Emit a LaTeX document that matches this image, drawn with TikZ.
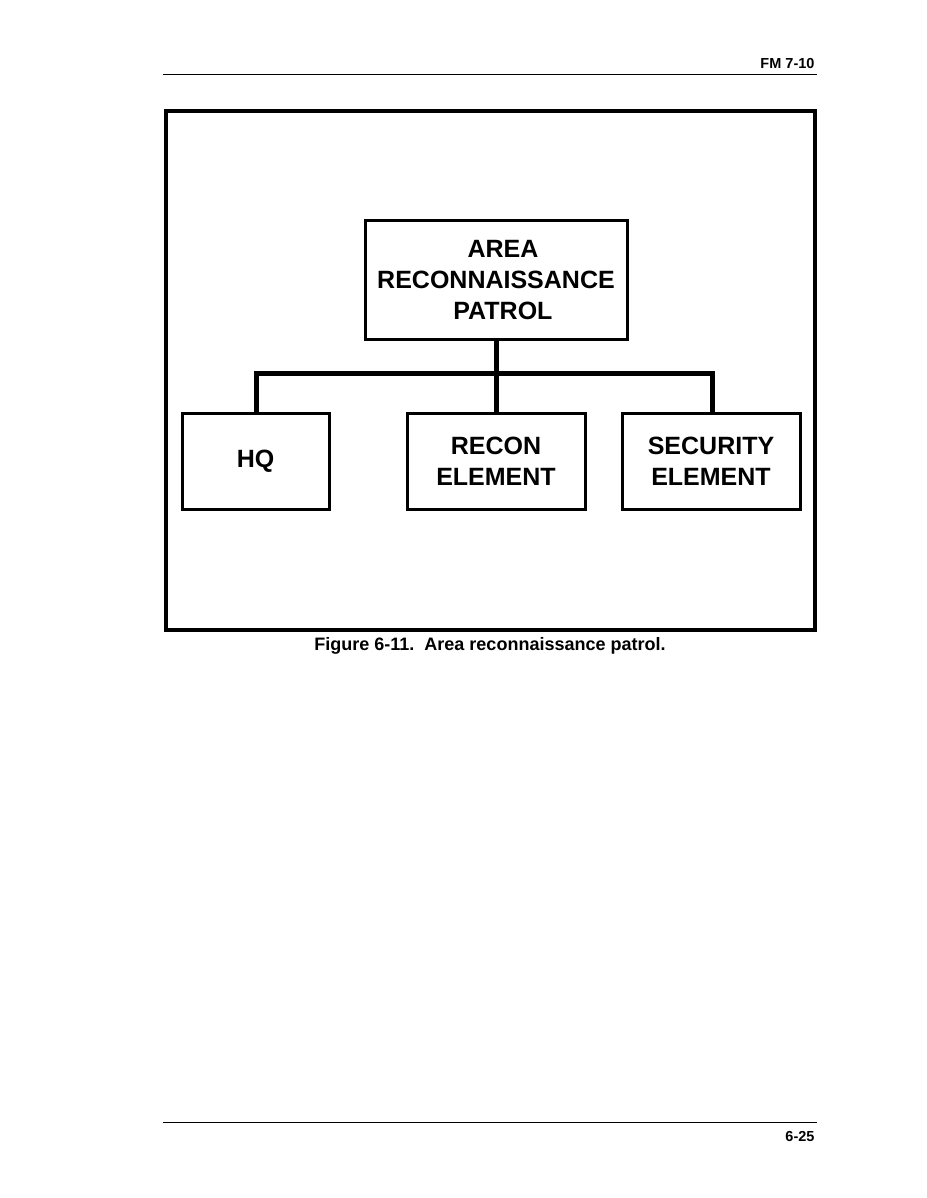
\documentclass[tikz,border=0pt]{standalone}
\usepackage{fontspec}
\setmainfont{Liberation Sans}
\begin{document}
\begin{tikzpicture}[x=1pt,y=-1pt,
  orgbox/.style={draw,line width=3pt,minimum width=#1,minimum height=96pt,inner sep=0pt,align=center,
    font=\fontsize{25}{31}\selectfont\bfseries},
  link/.style={line width=5pt},
  rule/.style={line width=1pt}]
\useasboundingbox (0,0) rectangle (926,1198);
% header and footer
\node[anchor=base east,font=\fontsize{14.5}{16}\selectfont\bfseries] (hdr) at (818,69) {FM 7-10};
\draw[rule] (163,75) -- (817,75);
\draw[rule] (163,1122) -- (817,1122);
\node[anchor=base east,font=\fontsize{14.5}{16}\selectfont\bfseries] (ftr) at (818,1141) {6-25};
% frame
\draw[line width=4.5pt] (166,111) rectangle (815,630);
% boxes
\node[orgbox=262pt,minimum height=118pt] (top) at (496,280) {\ \ AREA\\RECONNAISSANCE\\\ \ PATROL};
\node[orgbox=147pt] (hq) at (255.5,461) {HQ};
\node[orgbox=178pt] (recon) at (496,461) {RECON\\ELEMENT};
\node[orgbox=178pt] (sec) at (711,461) {SECURITY\\ELEMENT};
% connectors
\coordinate (j) at (496,373);
\draw[link] (top.south) -- (j);
\draw[link] (hq.north -| 256,0) |- (j) -| (sec.north -| 712,0);
\draw[link] (j) -- (recon.north);
% caption
\node[font=\fontsize{18}{20}\selectfont\bfseries,anchor=base] (cap) at (490,650) {Figure 6-11.\ \ Area reconnaissance patrol.};
\end{tikzpicture}
\end{document}
